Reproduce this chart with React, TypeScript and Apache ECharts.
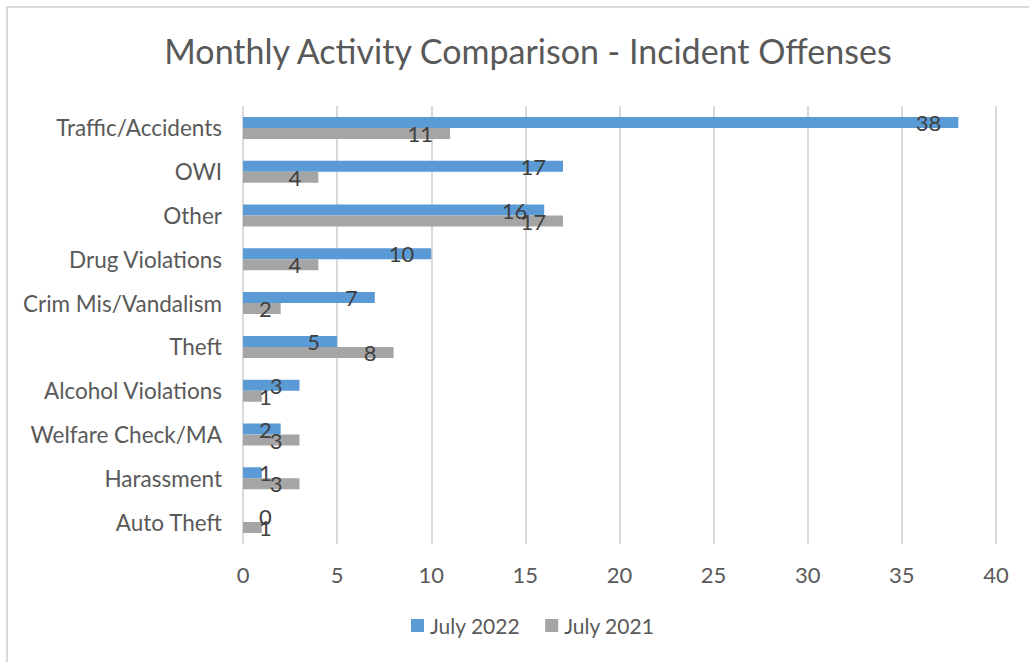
import React, { useEffect, useRef } from "react";
import * as echarts from "echarts";

const categories = [
  "Traffic/Accidents",
  "OWI",
  "Other",
  "Drug Violations",
  "Crim Mis/Vandalism",
  "Theft",
  "Alcohol Violations",
  "Welfare Check/MA",
  "Harassment",
  "Auto Theft",
];
const july2022 = [38, 17, 16, 10, 7, 5, 3, 2, 1, 0];
const july2021 = [11, 4, 17, 4, 2, 8, 1, 3, 3, 1];
const seriesNames = ["July 2022", "July 2021"];
const xMax = 40;
const xInterval = 5;

const FONT = "Lato";
const BLUE = "#5b9bd5";
const GRAY = "#a5a5a5";

function toData(values: number[]) {
  return values.map((v) =>
    v <= 2
      ? { value: v, label: { position: "insideLeft", distance: 16 } }
      : { value: v }
  );
}

export default function App() {
  const ref = useRef<HTMLDivElement>(null);
  useEffect(() => {
    if (!ref.current) return;
    const chart = echarts.init(ref.current, null, { renderer: "svg" });
    const labelStyle = {
      show: true,
      position: "insideRight",
      distance: 17,
      color: "#404040",
      fontFamily: FONT,
      fontSize: 22,
    };
    chart.setOption({
      animation: false,
      backgroundColor: "#ffffff",
      textStyle: { fontFamily: FONT },
      title: {
        text: "Monthly Activity Comparison - Incident Offenses",
        left: 523,
        top: 28,
        textAlign: "center",
        textStyle: {
          fontFamily: FONT,
          fontSize: 34,
          fontWeight: "normal",
          color: "#595959",
        },
      },
      graphic: [
        {
          type: "rect",
          shape: { x: 7, y: 7, width: 1200, height: 1000 },
          style: { fill: "none", stroke: "#d9d9d9", lineWidth: 2 },
          silent: true,
        },
      ],
      legend: {
        data: seriesNames,
        bottom: 21,
        left: 406,
        itemWidth: 13,
        itemHeight: 13,
        itemGap: 25,
        icon: "rect",
        textStyle: { fontFamily: FONT, fontSize: 21, color: "#595959", padding: [0, 0, 0, 1] },
      },
      grid: { left: 243, right: 33, top: 106, bottom: 118 },
      xAxis: {
        type: "value",
        min: 0,
        max: xMax,
        interval: xInterval,
        axisLine: { show: false },
        axisTick: { show: false },
        axisLabel: {
          color: "#595959",
          fontFamily: FONT,
          fontSize: 22,
          margin: 19,
        },
        splitLine: { show: true, lineStyle: { color: "#d9d9d9", width: 2 } },
      },
      yAxis: {
        type: "category",
        data: categories,
        inverse: true,
        axisLine: { show: false },
        axisTick: { show: false },
        axisLabel: {
          color: "#595959",
          fontFamily: FONT,
          fontSize: 22.5,
          margin: 21,
        },
        splitLine: { show: false },
      },
      series: [
        {
          name: seriesNames[0],
          type: "bar",
          data: toData(july2022),
          barWidth: 11,
          barGap: "0%",
          itemStyle: { color: BLUE },
          label: labelStyle,
        },
        {
          name: seriesNames[1],
          type: "bar",
          data: toData(july2021),
          barWidth: 11,
          barGap: "0%",
          itemStyle: { color: GRAY },
          label: labelStyle,
        },
      ],
    });
    return () => chart.dispose();
  }, []);
  return (
    <div
      ref={ref}
      style={{ position: "fixed", left: 0, top: 0, width: 1029, height: 662 }}
    />
  );
}
